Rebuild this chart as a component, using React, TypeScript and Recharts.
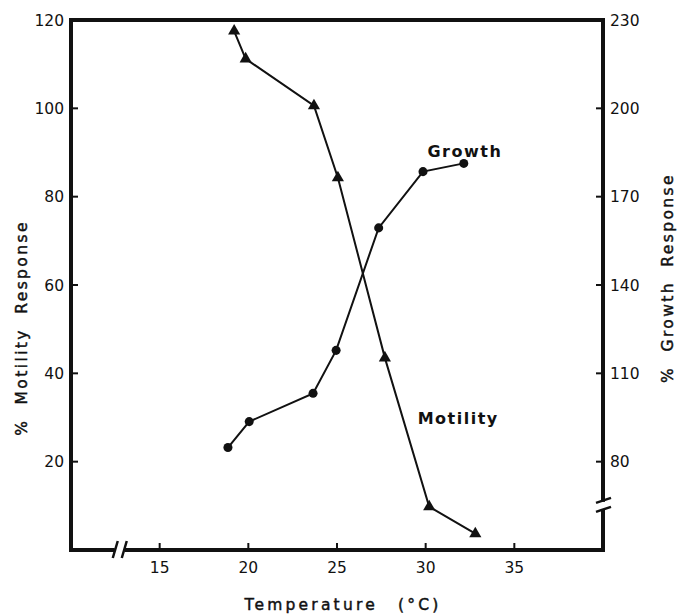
import React from 'react';
import {
  ComposedChart,
  Scatter,
  XAxis,
  YAxis,
  ReferenceLine,
  ReferenceDot,
} from 'recharts';

// 読み取った値（温度 °C）
const tempTicks = [15, 20, 25, 30, 35];
const motilityTicks = [20, 40, 60, 80, 100, 120];
const growthTicks = [80, 110, 140, 170, 200, 230];

const motilityTemp = [19.2, 19.85, 23.7, 25.05, 27.7, 30.2, 32.8];
const motilityValue = [117.5, 111.2, 100.6, 84.3, 43.5, 9.8, 3.7];

const growthTemp = [18.85, 20.05, 23.65, 24.95, 27.35, 29.85, 32.15];
const growthValue = [84.8, 93.6, 103.2, 117.8, 159.4, 178.5, 181.3];

const motilityData = motilityTemp.map((t, i) => ({ temp: t, value: motilityValue[i] }));
const growthData = growthTemp.map((t, i) => ({ temp: t, value: growthValue[i] }));

const FONT = '"DejaVu Sans", sans-serif';
const tickStyle = { fill: '#111', fontSize: 15.5, fontFamily: FONT };
const axisLineStyle = { stroke: '#111', strokeWidth: 4, strokeLinecap: 'square' as const };
const tickLineStyle = { stroke: '#111', strokeWidth: 2 };

// 軸の省略記号 //
const XBreak = (p: any) => (
  <g>
    <rect x={p.cx - 5} y={p.cy - 4} width={10} height={8} fill="#fff" />
    <line x1={p.cx - 7} y1={p.cy + 8} x2={p.cx - 2} y2={p.cy - 9} stroke="#111" strokeWidth={2.5} />
    <line x1={p.cx + 2} y1={p.cy + 8} x2={p.cx + 7} y2={p.cy - 9} stroke="#111" strokeWidth={2.5} />
  </g>
);

const YBreak = (p: any) => (
  <g>
    <rect x={p.cx - 4} y={p.cy - 4} width={8} height={8} fill="#fff" />
    <line x1={p.cx - 7} y1={p.cy - 3} x2={p.cx + 8} y2={p.cy - 8} stroke="#111" strokeWidth={2.5} />
    <line x1={p.cx - 7} y1={p.cy + 6} x2={p.cx + 8} y2={p.cy + 1} stroke="#111" strokeWidth={2.5} />
  </g>
);

const Note = (text: string) => (p: any) => (
  <text x={p.cx} y={p.cy} fill="#111" fontSize={16} fontWeight="bold" fontFamily={FONT} letterSpacing={1.5}>
    {text}
  </text>
);

const Title = ({
  x,
  y,
  rotate,
  spacing = 2.4,
  words = 7,
  children,
}: {
  x: number;
  y: number;
  rotate?: boolean;
  spacing?: number;
  words?: number;
  children: string;
}) => (
  <text
    x={x}
    y={y}
    transform={rotate ? `rotate(-90 ${x} ${y})` : undefined}
    textAnchor="middle"
    dominantBaseline="central"
    fill="#111"
    stroke="#111"
    strokeWidth={0.45}
    fontSize={15.5}
    fontFamily={FONT}
    letterSpacing={spacing}
    wordSpacing={words}
  >
    {children}
  </text>
);

const App: React.FC = () => {
  return (
    <div style={{ position: 'absolute', left: 0, top: 0, background: '#fff' }}>
      <ComposedChart
        width={680}
        height={615}
        margin={{ top: 20, right: 27, bottom: 25, left: 21 }}
      >
        <XAxis
          type="number"
          dataKey="temp"
          domain={[10, 40]}
          ticks={tempTicks}
          height={40}
          tick={tickStyle}
          tickSize={-7}
          tickMargin={19}
          axisLine={axisLineStyle}
          tickLine={tickLineStyle}
          allowDataOverflow
          label={{
            content: () => (
              <Title x={343} y={605} spacing={3.2} words={12}>
                Temperature (°C)
              </Title>
            ),
          }}
        />
        <YAxis
          yAxisId="left"
          type="number"
          domain={[0, 120]}
          ticks={motilityTicks}
          width={50}
          tick={tickStyle}
          tickSize={-7}
          tickMargin={14}
          axisLine={axisLineStyle}
          tickLine={tickLineStyle}
          allowDataOverflow
          label={{ content: () => <Title x={22} y={328} rotate>% Motility Response</Title> }}
        />
        <YAxis
          yAxisId="right"
          orientation="right"
          type="number"
          domain={[50, 230]}
          ticks={growthTicks}
          width={50}
          tick={tickStyle}
          tickSize={-7}
          tickMargin={14}
          axisLine={axisLineStyle}
          tickLine={tickLineStyle}
          allowDataOverflow
          label={{ content: () => <Title x={668} y={278} rotate>% Growth Response</Title> }}
        />
        <ReferenceLine yAxisId="left" y={120} stroke="#111" strokeWidth={4} />
        <ReferenceDot yAxisId="left" x={12.75} y={0} r={0} shape={XBreak} />
        <ReferenceDot yAxisId="right" x={40} y={65} r={0} shape={YBreak} />
        <ReferenceDot yAxisId="left" x={30.1} y={89} r={0} shape={Note('Growth')} />
        <ReferenceDot yAxisId="left" x={29.55} y={28.6} r={0} shape={Note('Motility')} />
        <Scatter
          yAxisId="left"
          name="Motility"
          data={motilityData}
          dataKey="value"
          fill="#111"
          shape="triangle"
          line={{ stroke: '#111', strokeWidth: 2 }}
          lineType="joint"
          isAnimationActive={false}
        />
        <Scatter
          yAxisId="right"
          name="Growth"
          data={growthData}
          dataKey="value"
          fill="#111"
          shape="circle"
          line={{ stroke: '#111', strokeWidth: 2 }}
          lineType="joint"
          isAnimationActive={false}
        />
      </ComposedChart>
    </div>
  );
};

export default App;
